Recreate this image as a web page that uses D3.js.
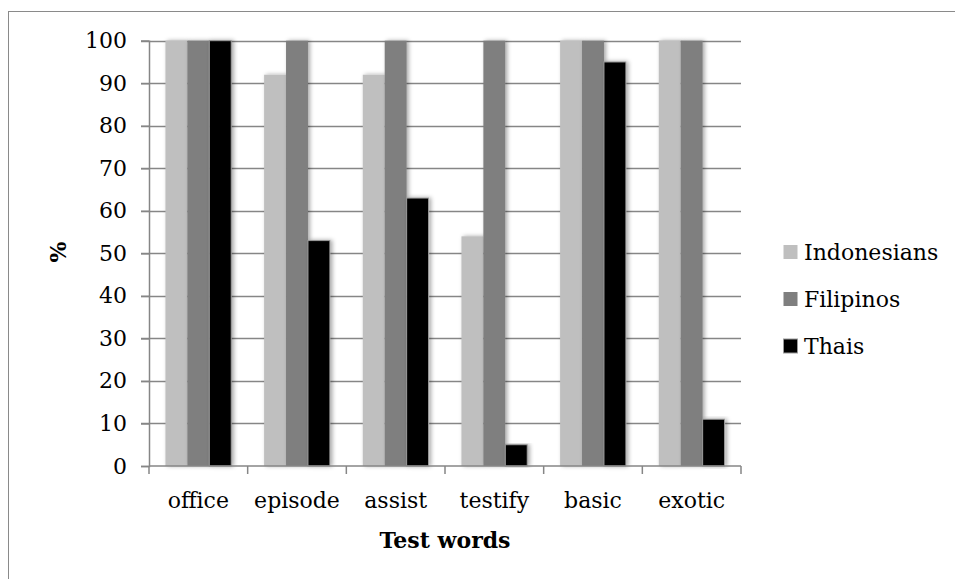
<!DOCTYPE html>
<html><head><meta charset="utf-8">
<script src="https://cdn.jsdelivr.net/npm/d3@7"></script>
<style>body{margin:0;background:#fff}svg{display:block}</style>
</head><body>
<svg id="c" width="955" height="579"></svg>
<script>
const categories = ["office","episode","assist","testify","basic","exotic"];
const seriesNames = ["Indonesians","Filipinos","Thais"];
const indonesians = [100,92,92,54,100,100];
const filipinos = [100,100,100,100,100,100];
const thais = [100,53,63,5,95,11];
const yTicks = [0,10,20,30,40,50,60,70,80,90,100];
const colors = ["#bfbfbf","#7f7f7f","#000000"];

const series = [indonesians, filipinos, thais];
const svg = d3.select("#c");
const font = "'DejaVu Serif', serif";

const defs = svg.append("defs");
const f = defs.append("filter").attr("id","sh").attr("x","-30%").attr("y","-5%").attr("width","160%").attr("height","110%");
f.append("feDropShadow").attr("dx",2).attr("dy",0).attr("stdDeviation",2).attr("flood-color","#000").attr("flood-opacity",0.35);

svg.append("rect").attr("x",8.5).attr("y",11.5).attr("width",960).attr("height",600)
  .attr("fill","none").attr("stroke","#8a8a8a").attr("stroke-width",1);

const L=149, R=741, T=40.7, B=466;
const x = d3.scaleBand().domain(categories).range([L,R]).paddingInner(0).paddingOuter(0);
const y = d3.scaleLinear().domain([0,100]).range([B,T]);
const inner = d3.scaleBand().domain(d3.range(3)).range([0,x.bandwidth()]).paddingInner(0).paddingOuter(0.75);

// grid
svg.append("g").selectAll("line").data(yTicks.filter(d=>d>0)).join("line")
  .attr("x1",L-8).attr("x2",R).attr("y1",d=>Math.round(y(d))+0.5).attr("y2",d=>Math.round(y(d))+0.5)
  .attr("stroke","#868686").attr("stroke-width",1.5);

// bars
const g = svg.append("g");
categories.forEach((c,i)=>{
  series.forEach((s,k)=>{
    g.append("rect")
      .attr("x", x(c)+inner(k))
      .attr("y", y(s[i]))
      .attr("width", inner.bandwidth())
      .attr("height", B - y(s[i]))
      .attr("fill", colors[k])
      .attr("stroke", k===2 ? "#9a9a9a" : "none")
      .attr("stroke-width", k===2 ? 1 : 0)
      .attr("filter","url(#sh)");
  });
});

// y axis
const yAxis = d3.axisLeft(y).tickValues(yTicks).tickSize(8).tickPadding(14);
const ya = svg.append("g").attr("transform",`translate(${L},0)`).call(yAxis);
ya.select(".domain").attr("stroke","#868686").attr("stroke-width",1.5);
ya.selectAll(".tick line").attr("stroke","#868686").attr("stroke-width",1.5);
ya.selectAll("text").attr("font-family",font).attr("font-size",22).attr("fill","#000");

// x axis
const xAxis = d3.axisBottom(x).tickSize(0).tickPadding(26);
const xa = svg.append("g").attr("transform",`translate(0,${B})`).call(xAxis);
xa.select(".domain").attr("stroke","#868686").attr("stroke-width",1.5).attr("d",`M${L},0H${R}`);
xa.selectAll("text").attr("font-family",font).attr("font-size",22).attr("fill","#000");
svg.append("g").selectAll("line").data(d3.range(categories.length+1)).join("line")
  .attr("x1",d=>L+d*x.bandwidth()).attr("x2",d=>L+d*x.bandwidth())
  .attr("y1",B).attr("y2",B+8).attr("stroke","#868686").attr("stroke-width",1.5);

// axis titles
svg.append("text").attr("x",(L+R)/2).attr("y",548).attr("text-anchor","middle")
  .attr("font-family",font).attr("font-weight","bold").attr("font-size",22).text("Test words");
svg.append("text").attr("transform","translate(66,252) rotate(-90)").attr("text-anchor","middle")
  .attr("font-family",font).attr("font-weight","bold").attr("font-size",22).text("%");

// legend
const lg = svg.append("g");
seriesNames.forEach((n,k)=>{
  const cy = 252 + k*47;
  lg.append("rect").attr("x",783.5).attr("y",cy-7).attr("width",14).attr("height",14)
    .attr("fill",colors[k]).attr("stroke", k===2?"#9a9a9a":"none");
  lg.append("text").attr("x",804).attr("y",cy).attr("dy","0.35em")
    .attr("font-family",font).attr("font-size",22).text(n);
});
</script>
</body></html>
